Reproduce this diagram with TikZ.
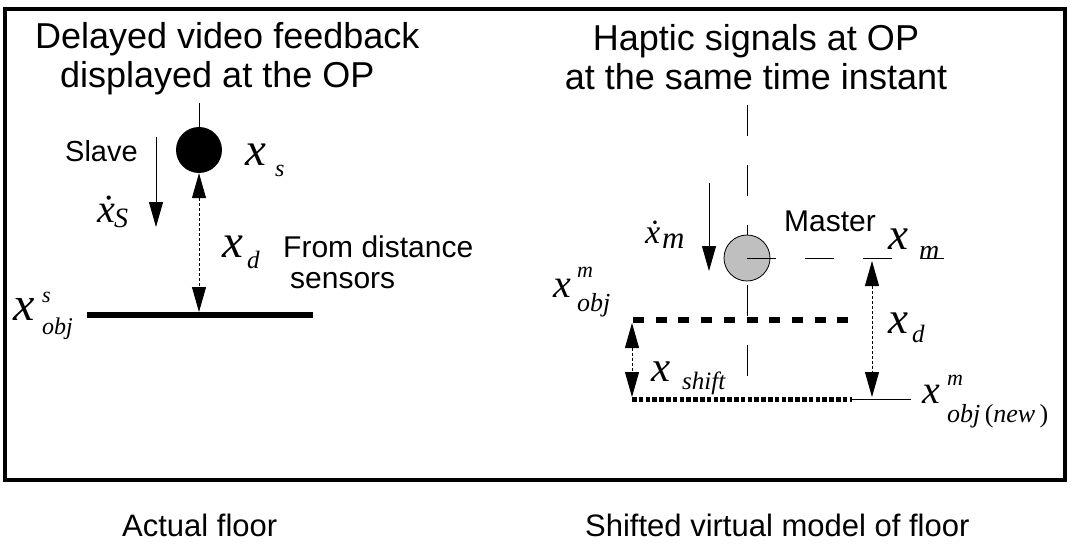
\documentclass[tikz,border=0pt]{standalone}
\usepackage{fontspec}
\setmainfont{Liberation Sans}
\newfontfamily\tms{Liberation Serif}
\usetikzlibrary{arrows.meta}
\begin{document}
\begin{tikzpicture}[x=1pt,y=-1pt,
  lbl/.style={anchor=base west, inner sep=0pt, font=\fontsize{30}{30}\selectfont},
  hd/.style={anchor=base west, inner sep=0pt, font=\fontsize{36}{36}\selectfont},
  hdc/.style={anchor=base, inner sep=0pt, font=\fontsize{36}{36}\selectfont},
  bt/.style={anchor=base west, inner sep=0pt, font=\fontsize{31}{31}\selectfont},
  mx/.style={anchor=base west, inner sep=0pt, font=\tms\itshape\fontsize{#1}{#1}\selectfont},
  tipdn/.style={line width=0.8pt, -{Triangle[length=25pt,width=14pt]}},
  dbl/.style={line width=0.8pt, dash pattern=on 3pt off 2pt,
     {Triangle[length=25pt,width=14pt]}-{Triangle[length=25pt,width=14pt]}},
  frame/.style={line width=3.5pt},
  floorline/.style={line width=6pt},
  vfloor/.style={line width=6pt, dash pattern=on 11pt off 11.7pt},
  nfloor/.style={line width=5pt, dash pattern=on 4.5pt off 2.3pt},
  axis/.style={line width=0.8pt, dash pattern=on 31pt off 29pt},
  haxis/.style={line width=0.8pt, dash pattern=on 29pt off 29pt},
  thin/.style={line width=0.8pt},
]
\useasboundingbox (0,0) rectangle (1072,546);
\draw[frame] (5,9) rectangle (1065,480);

% ---------- left: actual floor ----------
\node[hd] (h1) at (35,48) {Delayed video feedback};
\node[hd] (h2) at (60,87) {displayed at the OP};

\node[circle, fill=black, minimum size=46pt, inner sep=0pt] (ls) at (199,150) {};
\coordinate (lstop) at (199,103);
\draw[thin] (lstop) -- (ls.north);

\coordinate (fl1) at (87,315);
\coordinate (fl2) at (313,315);
\coordinate (flmid) at (199,312);
\draw[floorline] (fl1) -- (fl2);
\draw[dbl] (ls.south) -- (flmid);

\coordinate (sa1) at (156,137);
\coordinate (sa2) at (156,227);
\draw[tipdn] (sa1) -- (sa2);

\node[lbl, font=\fontsize{29}{29}\selectfont] (slave) at (65,161) {Slave};
\node[mx=40] (xsdot) at (97,222) {ẋ};
\node[mx=28] (xsS) at (114,227) {S};

\node[mx=47] (xs) at (245,165) {x};
\node[mx=24] (xss) at (275,176) {s};

\node[mx=47] (xd) at (222,257) {x};
\node[mx=25] (xdd) at (247,268) {d};
\node[lbl] (fd1) at (283,257) {From distance};
\node[lbl] (fd2) at (290,288) {sensors};

\node[mx=48] (xo) at (13,320) {x};
\node[mx=22] (xos) at (42,302) {s};
\node[mx=24] (xoo) at (42,334) {obj};

% ---------- right: shifted virtual floor ----------
\node[hdc] (h3) at (756,50) {Haptic signals at OP};
\node[hdc] (h4) at (756,89) {at the same time instant};

\coordinate (vt) at (747,105);
\coordinate (vb) at (747,377);
\draw[axis] (vt) -- (vb);
\node[circle, draw, thin, fill=black!25, minimum size=46pt, inner sep=0pt] (rm) at (747,258) {};
\coordinate (hx) at (944,258);
\draw[haxis] (rm.center) -- (hx);

\coordinate (ma1) at (709,183);
\coordinate (ma2) at (709,271);
\draw[tipdn] (ma1) -- (ma2);
\node[mx=34] (xmdot) at (645,243) {ẋ};
\node[mx=31] (xmm) at (662,248) {m};

\node[lbl] (master) at (784,231) {Master};
\node[mx=45] (xm) at (888,249) {x};
\node[mx=28] (xmsub) at (919,259) {m};

\coordinate (vf1) at (633,320);
\coordinate (vf2) at (850,320);
\draw[vfloor] (vf1) -- (vf2);

\coordinate (nf1) at (632,399);
\coordinate (nf2) at (852,399);
\coordinate (nf3) at (911,399);
\draw[nfloor] (nf1) -- (nf2);
\draw[thin] (nf2) -- (nf3);

\coordinate (rdt) at (872,261);
\coordinate (rdb) at (872,397);
\draw[dbl] (rdt) -- (rdb);
\node[mx=45] (xd2) at (888,333) {x};
\node[mx=25] (xd2d) at (912,342) {d};

\coordinate (sht) at (632,323);
\coordinate (shb) at (632,397);
\draw[dbl] (sht) -- (shb);
\node[mx=43] (xsh) at (651,381) {x};
\node[mx=25] (xshs) at (682,389) {shift};

\node[mx=40] (xo2) at (553,297) {x};
\node[mx=22] (xo2m) at (577,277) {m};
\node[mx=26] (xo2o) at (577,311) {obj};

\node[mx=40] (xo3) at (922,403) {x};
\node[mx=22] (xo3m) at (947,385) {m};
\node[mx=26] (xo3o) at (947,422) {obj\,{\upshape(}new\,{\upshape)}};

% ---------- captions ----------
\node[bt] (c1) at (122,536) {Actual floor};
\node[bt] (c2) at (585,536) {Shifted virtual model of floor};
\end{tikzpicture}
\end{document}
